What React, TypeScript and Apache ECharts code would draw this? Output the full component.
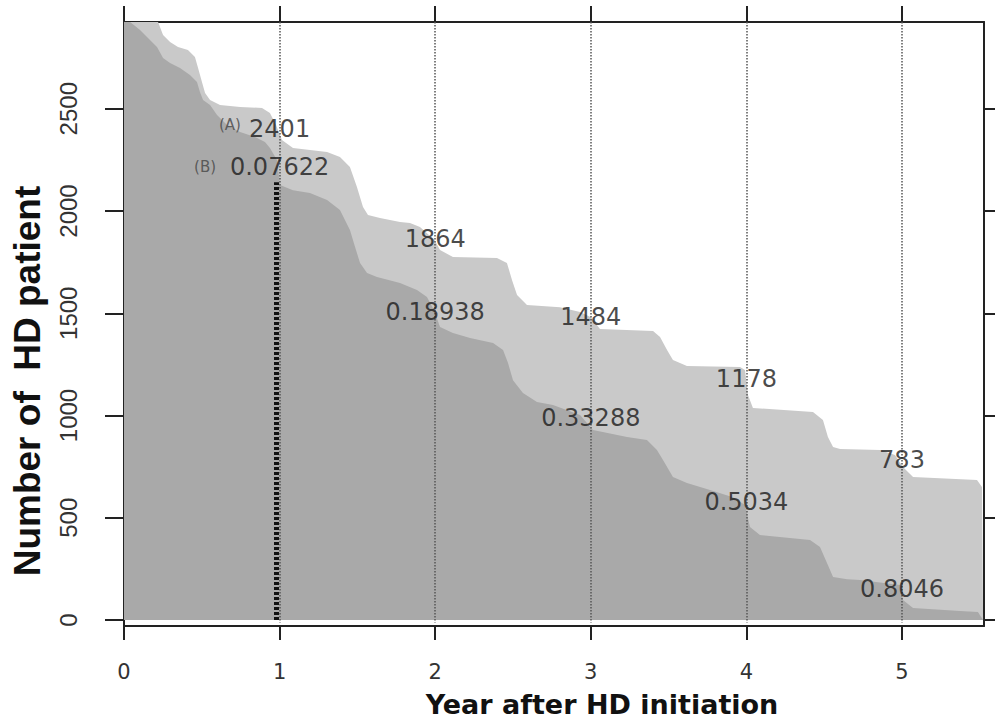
import React, { useEffect, useRef } from "react";
import * as echarts from "echarts";

// ---- axis ranges / ticks ----
const X_MIN = 0;
const X_MAX = 5.527;
const Y_MIN = -29;
const Y_MAX = 2924;
const X_TICKS = [0, 1, 2, 3, 4, 5];
const Y_TICKS = [0, 500, 1000, 1500, 2000, 2500];

// ---- light gray curve: number of HD patients at risk ----
const LIGHT_X = [
  0, 0.219, 0.251, 0.296, 0.347, 0.411, 0.456, 0.476, 0.501, 0.521, 0.553, 0.617, 0.746, 0.887,
  0.938, 0.977, 1.015, 1.086, 1.305, 1.388, 1.452, 1.497, 1.536, 1.568, 1.645, 1.774, 1.838,
  1.902, 1.967, 1.992, 2.031, 2.114, 2.397, 2.461, 2.494, 2.526, 2.59, 2.802, 2.931, 3.001,
  3.059, 3.4, 3.445, 3.49, 3.528, 3.618, 3.959, 3.991, 4.01, 4.042, 4.428, 4.492, 4.524, 4.557,
  4.602, 4.859, 4.955, 5.006, 5.071, 5.482, 5.514, 5.521,
];
const LIGHT_Y = [
  2924, 2924, 2860, 2826, 2802, 2787, 2753, 2699, 2631, 2577, 2543, 2518, 2508, 2504,
  2479, 2420, 2347, 2308, 2288, 2264, 2215, 2117, 2019, 1980, 1966, 1946, 1941,
  1922, 1878, 1863, 1809, 1775, 1770, 1746, 1662, 1589, 1540, 1530, 1506, 1481,
  1423, 1413, 1384, 1320, 1271, 1242, 1237, 1222, 1100, 1037, 1017, 978, 895, 846,
  836, 831, 807, 748, 699, 685, 650, 0,
];

// ---- dark gray curve ----
const DARK_X = [
  0, 0.039, 0.103, 0.167, 0.212, 0.251, 0.296, 0.36, 0.424, 0.469, 0.488, 0.508, 0.553, 0.598,
  0.662, 0.746, 0.842, 0.906, 0.938, 0.983, 1.003, 1.086, 1.195, 1.305, 1.388, 1.452, 1.485,
  1.517, 1.562, 1.626, 1.774, 1.883, 1.947, 1.992, 2.031, 2.114, 2.224, 2.372, 2.436, 2.468,
  2.5, 2.564, 2.654, 2.757, 2.931, 3.014, 3.233, 3.361, 3.425, 3.464, 3.528, 3.618, 3.766,
  3.914, 3.991, 4.023, 4.087, 4.409, 4.473, 4.518, 4.557, 4.647, 4.73, 4.987, 5.006, 5.071,
  5.373, 5.488, 5.521,
];
const DARK_Y = [
  2924, 2924, 2885, 2836, 2802, 2748, 2723, 2699, 2665, 2631, 2582, 2543, 2518, 2469,
  2420, 2386, 2362, 2337, 2308, 2249, 2127, 2102, 2088, 2054, 2005, 1907, 1824,
  1746, 1697, 1677, 1648, 1614, 1579, 1516, 1433, 1403, 1379, 1354, 1320, 1257,
  1173, 1110, 1066, 1051, 1002, 929, 895, 880, 831, 782, 699, 670, 636,
  601, 562, 455, 416, 391, 357, 279, 210, 200, 196, 171, 98, 59,
  44, 39, 0,
];

// ---- annotations ----
const MARK_YEARS = [1, 2, 3, 4, 5];
const COUNTS = [2401, 1864, 1484, 1178, 783];
const PROPORTIONS = ["0.07622", "0.18938", "0.33288", "0.5034", "0.8046"];
const PROPORTION_Y = [2215, 1507, 987, 577, 151];
const TAG_TEXT = ["(A)", "(B)"];
const TAG_X = [0.681, 0.521];
const TAG_Y = [2422, 2215];
const GRID_LINE_YEARS = [1, 2, 3, 4, 5];
const HIGHLIGHT_YEAR = 1;
const HIGHLIGHT_TOP = 2141;

export default function App() {
  const ref = useRef<HTMLDivElement>(null);

  useEffect(() => {
    document.body.style.margin = "0";
    const chart = echarts.init(ref.current!, null, { renderer: "svg" });

    const axisLineStyle = { color: "#222", width: 2 };
    const lightData = LIGHT_X.map((x, i) => [x, LIGHT_Y[i]]);
    const darkData = DARK_X.map((x, i) => [x, DARK_Y[i]]);
    const countData = MARK_YEARS.map((x, i) => [x, COUNTS[i], String(COUNTS[i])]);
    const propData = MARK_YEARS.map((x, i) => [x, PROPORTION_Y[i], PROPORTIONS[i]]);
    const tagData = TAG_X.map((x, i) => [x, TAG_Y[i], TAG_TEXT[i]]);

    const option: any = {
      animation: false,
      backgroundColor: "#ffffff",
      grid: { left: 124, top: 22, right: 11, bottom: 97, outerBoundsMode: "none" },
      xAxis: [
        {
          type: "value",
          position: "bottom",
          min: X_MIN,
          max: X_MAX,
          axisLine: { show: true, onZero: false, lineStyle: axisLineStyle },
          axisTick: { show: true, length: 14, customValues: X_TICKS, lineStyle: axisLineStyle },
          axisLabel: {
            customValues: X_TICKS,
            margin: 35,
            fontFamily: "DejaVu Sans",
            fontSize: 21,
            color: "#333",
            formatter: (v: number) => String(v),
          },
          splitLine: { show: false },
        },
        {
          type: "value",
          position: "top",
          min: X_MIN,
          max: X_MAX,
          axisLine: { show: true, onZero: false, lineStyle: axisLineStyle },
          axisTick: { show: true, length: 16, customValues: X_TICKS, lineStyle: axisLineStyle },
          axisLabel: { show: false },
          splitLine: { show: false },
        },
      ],
      yAxis: [
        {
          type: "value",
          position: "left",
          min: Y_MIN,
          max: Y_MAX,
          axisLine: { show: true, onZero: false, lineStyle: axisLineStyle },
          axisTick: { show: true, length: 19, customValues: Y_TICKS, lineStyle: axisLineStyle },
          axisLabel: {
            customValues: Y_TICKS,
            rotate: 90,
            margin: 44,
            fontFamily: "Liberation Sans",
            fontSize: 24,
            color: "#333",
            formatter: (v: number) => String(v),
          },
          splitLine: { show: false },
        },
        {
          type: "value",
          position: "right",
          min: Y_MIN,
          max: Y_MAX,
          axisLine: { show: true, onZero: false, lineStyle: axisLineStyle },
          axisTick: { show: true, length: 12, customValues: Y_TICKS, lineStyle: axisLineStyle },
          axisLabel: { show: false },
          splitLine: { show: false },
        },
      ],
      series: [
        {
          type: "line",
          name: "at risk",
          data: lightData,
          showSymbol: false,
          lineStyle: { width: 0 },
          areaStyle: { color: "#c9c9c9", opacity: 1 },
          itemStyle: { color: "#c9c9c9" },
          z: 1,
          silent: true,
        },
        {
          type: "line",
          name: "dark",
          data: darkData,
          showSymbol: false,
          lineStyle: { width: 0 },
          areaStyle: { color: "#a9a9a9", opacity: 1 },
          itemStyle: { color: "#a9a9a9" },
          z: 2,
          silent: true,
          markLine: {
            silent: true,
            symbol: ["none", "none"],
            label: { show: false },
            data: [
              ...GRID_LINE_YEARS.map((yr) => [
                { coord: [yr, Y_MAX], lineStyle: { type: "dotted", color: "#555", width: 1.5 } },
                { coord: [yr, -12] },
              ]),
              [
                { coord: [HIGHLIGHT_YEAR - 0.02, 0], lineStyle: { type: [3, 2], color: "#111", width: 5 } },
                { coord: [HIGHLIGHT_YEAR - 0.02, HIGHLIGHT_TOP] },
              ],
            ],
          },
        },
        {
          type: "scatter",
          data: countData,
          symbolSize: 1,
          itemStyle: { color: "rgba(0,0,0,0)" },
          label: {
            show: true,
            position: "inside",
            formatter: (p: any) => p.data[2],
            fontFamily: "DejaVu Sans",
            fontSize: 24,
            color: "#1a1a1a",
          },
          z: 10,
          silent: true,
        },
        {
          type: "scatter",
          data: propData,
          symbolSize: 1,
          itemStyle: { color: "rgba(0,0,0,0)" },
          label: {
            show: true,
            position: "inside",
            formatter: (p: any) => p.data[2],
            fontFamily: "DejaVu Sans",
            fontSize: 24,
            color: "#1a1a1a",
          },
          z: 10,
          silent: true,
        },
        {
          type: "scatter",
          data: tagData,
          symbolSize: 1,
          itemStyle: { color: "rgba(0,0,0,0)" },
          label: {
            show: true,
            position: "inside",
            formatter: (p: any) => p.data[2],
            fontFamily: "DejaVu Sans",
            fontSize: 15,
            color: "#444",
          },
          z: 10,
          silent: true,
        },
      ],
      graphic: [
        {
          type: "text",
          x: 602,
          y: 704,
          style: {
            text: "Year after HD initiation",
            fontFamily: "DejaVu Sans",
            fontWeight: "bold",
            fontSize: 27,
            fill: "#111",
            align: "center",
            verticalAlign: "middle",
            textAlign: "center",
            textVerticalAlign: "middle",
          },
        },
        {
          type: "text",
          x: 27,
          y: 381,
          rotation: Math.PI / 2,
          style: {
            text: "Number of  HD patient",
            fontFamily: "Liberation Sans",
            fontWeight: "bold",
            fontSize: 37,
            fill: "#111",
            align: "center",
            verticalAlign: "middle",
            textAlign: "center",
            textVerticalAlign: "middle",
          },
        },
      ],
    };

    chart.setOption(option);
    return () => chart.dispose();
  }, []);

  return <div ref={ref} style={{ width: 995, height: 723 }} />;
}
